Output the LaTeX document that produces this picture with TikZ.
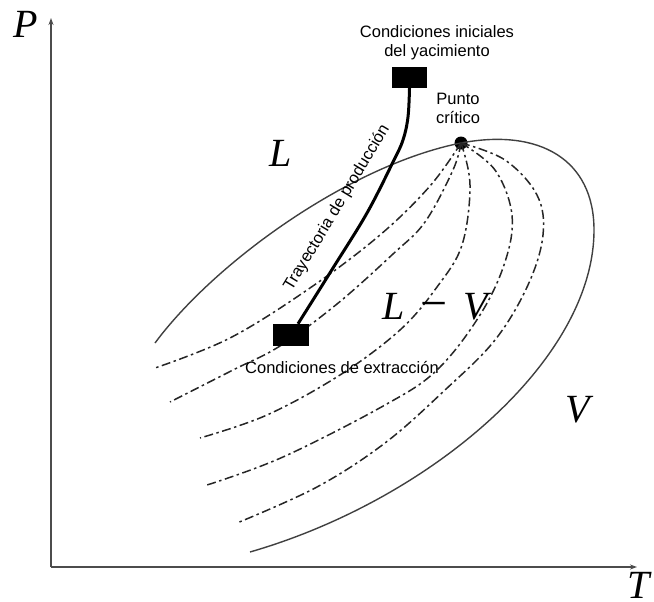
\documentclass[tikz,border=0pt]{standalone}
\usepackage{fontspec}
\setmainfont{Liberation Sans}
\newfontfamily\tnr{Liberation Serif}
\usetikzlibrary{arrows.meta}
\tikzset{
  axis/.style={draw=black!70, line width=1.7pt, -{Stealth[length=7pt,width=5pt]}},
  envelope/.style={draw=black!75, line width=1.4pt},
  quality/.style={draw=black!85, line width=1.5pt, dash pattern=on 9pt off 3.5pt on 2.5pt off 3.5pt},
  traj/.style={draw=black, line width=3pt},
  cond/.style={fill=black, inner sep=0pt},
  dot/.style={circle, fill=black, inner sep=0pt, minimum size=13pt},
  lbl/.style={font=\fontsize{16.5}{20}\selectfont, inner sep=0pt, align=center},
  var/.style={font=\tnr\itshape\fontsize{40}{40}\selectfont, inner sep=0pt}
}
\begin{document}
\begin{tikzpicture}[x=1pt,y=-1pt]
\useasboundingbox (0,0) rectangle (654,602);
% axes
\coordinate (O) at (51,567);
\coordinate (Ptip) at (51,18);
\coordinate (Ttip) at (637,567);
\draw[axis] (O) -- (Ptip);
\draw[axis] (O) -- (Ttip);
\node[var] (P) at (26,24) {P};
\node[var] (T) at (639,585) {T};
% critical point
\node[dot] (cp) at (461,143) {};
% envelope
\coordinate (bstart) at (155,343);
\coordinate (dright) at (594,230);
\coordinate (dend) at (250,552);
\draw[envelope] (bstart) .. controls (215,262) and (350,165) .. (cp.center)
  .. controls (540,128) and (594,160) .. (dright)
  .. controls (594,360) and (430,500) .. (dend);
% quality lines
\draw[quality] plot[smooth, tension=0.6] coordinates {(cp.center) (430,186) (380,235) (310,288) (230,338) (155,368)};
\draw[quality] plot[smooth, tension=0.6] coordinates {(cp.center) (453,170) (425,222) (393,254) (337,304) (280,346) (233,370) (170,402)};
\draw[quality] plot[smooth, tension=0.6] coordinates {(cp.center) (470,185) (462,245) (437,287) (400,330) (340,375) (267,415) (200,438)};
\draw[quality] plot[smooth, tension=0.6] coordinates {(cp.center) (495,170) (512,215) (505,262) (480,315) (437,370) (385,405) (283,457) (207,485)};
\draw[quality] plot[smooth, tension=0.6] coordinates {(cp.center) (505,160) (537,195) (543,235) (528,285) (495,340) (445,390) (385,443) (317,487) (237,523)};
% condition boxes and trajectory
\node[cond, minimum width=35pt, minimum height=21pt] (ub) at (409.5,77.5) {};
\node[cond, minimum width=36pt, minimum height=22pt] (lb) at (291,335) {};
\draw[traj] plot[smooth, tension=0.6] coordinates {(ub.south) (408,117) (403,140) (393,162) (367,213) (333,268) ([xshift=7pt]lb.north)};
% labels
\node[lbl] (ini) at (437,43) {Condiciones iniciales\\[-1pt]del yacimiento};
\node[lbl] (pc) at (458,108) {Punto\\[-1pt]crítico};
\node[lbl] (ext) at (342,368) {Condiciones de extracción};
\node[lbl, rotate=59] (tr) at (337,208) {Trayectoria de producción};
\node[var] (L) at (281,153) {L};
\node[var] (LV) at (435,307) {L\hspace{16pt}{\upshape\fontsize{48}{48}\selectfont −}\hspace{16pt}V};
\node[var] (V) at (578,410) {V};
\end{tikzpicture}
\end{document}
